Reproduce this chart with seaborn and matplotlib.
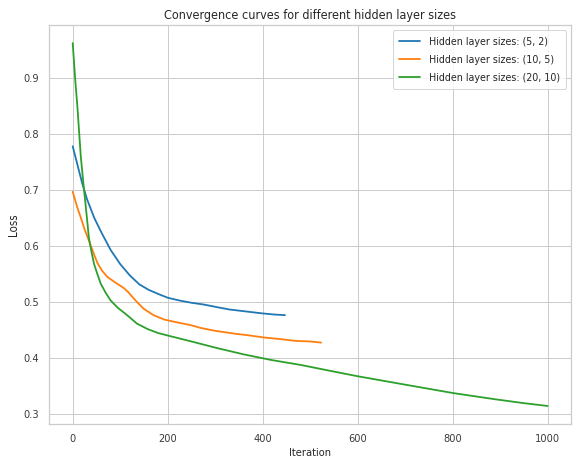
import matplotlib
matplotlib.use("Agg")
import matplotlib.pyplot as plt
import seaborn as sns
import pandas as pd

labels = ["Hidden layer sizes: (5, 2)", "Hidden layer sizes: (10, 5)", "Hidden layer sizes: (20, 10)"]

iter_a = [0, 10, 20, 30, 45, 60, 80, 100, 120, 140, 160, 185, 200, 225, 250, 275, 305, 330, 360, 400, 425, 447]
loss_a = [0.778, 0.745, 0.712, 0.684, 0.651, 0.625, 0.593, 0.568, 0.548, 0.532, 0.522, 0.513, 0.508, 0.503,
          0.499, 0.496, 0.491, 0.487, 0.484, 0.480, 0.478, 0.477]

iter_b = [0, 10, 17, 25, 34, 45, 52, 62, 73, 90, 108, 118, 126, 138, 150, 170, 193, 220, 249, 270, 300, 340,
          370, 404, 440, 470, 500, 523]
loss_b = [0.697, 0.668, 0.651, 0.630, 0.610, 0.585, 0.570, 0.556, 0.545, 0.535, 0.525, 0.517, 0.509, 0.498,
          0.488, 0.477, 0.469, 0.464, 0.459, 0.454, 0.449, 0.444, 0.441, 0.437, 0.434, 0.431, 0.430, 0.428]

iter_c = [0, 5, 10, 17, 24, 30, 34, 40, 45, 52, 59, 70, 80, 95, 110, 120, 135, 158, 180, 203, 250, 305, 360,
          418, 481, 540, 600, 700, 801, 889, 950, 1000]
loss_c = [0.962, 0.900, 0.847, 0.760, 0.699, 0.650, 0.615, 0.588, 0.568, 0.550, 0.533, 0.516, 0.503, 0.490,
          0.480, 0.473, 0.462, 0.452, 0.445, 0.440, 0.430, 0.418, 0.407, 0.397, 0.388, 0.378, 0.368, 0.353,
          0.338, 0.327, 0.320, 0.315]

frames = []
for lab, it, ls in zip(labels, [iter_a, iter_b, iter_c], [loss_a, loss_b, loss_c]):
    frames.append(pd.DataFrame({"Iteration": it, "Loss": ls, "label": lab}))
df = pd.concat(frames, ignore_index=True)

sns.set_theme(style="whitegrid")
plt.rcParams["font.family"] = ["DejaVu Sans"]
plt.rcParams["font.stretch"] = "condensed"

fig, ax = plt.subplots(figsize=(8, 6.4167), dpi=72)
sns.lineplot(data=df, x="Iteration", y="Loss", hue="label", palette="tab10", ax=ax, linewidth=1.8)
ax.set_title("Convergence curves for different hidden layer sizes", fontsize=12.5)
ax.set_xlabel("Iteration", fontsize=11)
ax.set_ylabel("Loss", fontsize=11.5)
ax.tick_params(labelsize=11, colors="#3a3a3a")
ax.set_xticks([0, 200, 400, 600, 800, 1000])
ax.set_yticks([0.3, 0.4, 0.5, 0.6, 0.7, 0.8, 0.9])
ax.legend(title=None, loc="upper right", fontsize=10.6, labelspacing=0.75, borderpad=0.6)
fig.subplots_adjust(left=0.085, right=0.992, top=0.946, bottom=0.082)
fig.savefig("out.png", dpi=72)
